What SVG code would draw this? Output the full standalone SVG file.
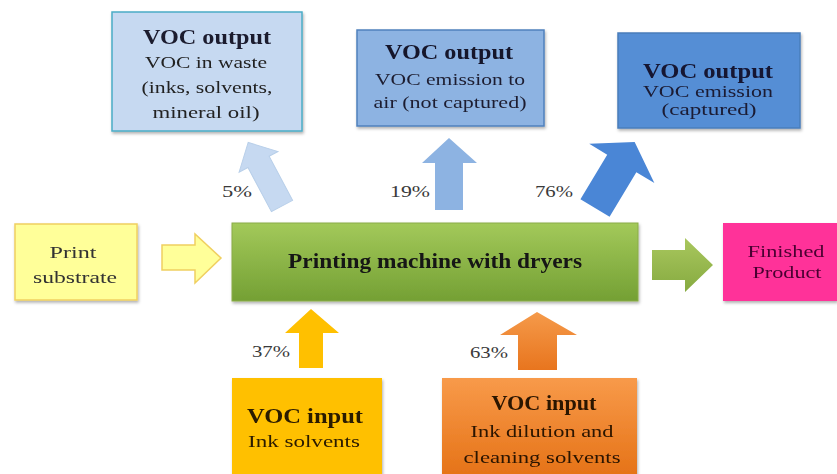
<svg xmlns="http://www.w3.org/2000/svg" width="837" height="474" viewBox="0 0 837 474">
<style>
text{font-family:"Liberation Serif","Times New Roman",serif;text-anchor:middle}
.t{font-size:22px;font-weight:bold}
.s{font-size:17px}
.p{font-size:16px;fill:#3a3a3a}
.box{filter:url(#sh)}
</style>
<defs>
<filter id="sh" x="-10%" y="-10%" width="125%" height="130%">
<feDropShadow dx="1" dy="2" stdDeviation="1.5" flood-color="#000" flood-opacity="0.3"/>
</filter>
<linearGradient id="gg" x1="0" y1="0" x2="0" y2="1">
<stop offset="0" stop-color="#a3c95a"/><stop offset="1" stop-color="#74a034"/>
</linearGradient>
<linearGradient id="og" x1="0" y1="0" x2="0" y2="1">
<stop offset="0" stop-color="#f89a4a"/><stop offset="1" stop-color="#e57216"/>
</linearGradient>
<linearGradient id="oa" x1="0" y1="0" x2="0" y2="1">
<stop offset="0" stop-color="#f59a4a"/><stop offset="1" stop-color="#e8751e"/>
</linearGradient>
<linearGradient id="ga" x1="0" y1="0" x2="0" y2="1">
<stop offset="0" stop-color="#a9c75e"/><stop offset="1" stop-color="#86aa40"/>
</linearGradient>
</defs>

<g id="out-waste" class="box">
<rect x="112" y="12" width="190" height="119" fill="#c6d9f1" stroke="#4bacc6" stroke-width="1.5"/>
<text x="207" y="44" class="t" fill="#1a1a2e" textLength="128" lengthAdjust="spacingAndGlyphs">VOC output</text>
<text x="206" y="68" class="s" fill="#222" textLength="122" lengthAdjust="spacingAndGlyphs">VOC  in waste</text>
<text x="207" y="93" class="s" fill="#222" textLength="131" lengthAdjust="spacingAndGlyphs">(inks, solvents,</text>
<text x="206" y="118" class="s" fill="#222" textLength="107" lengthAdjust="spacingAndGlyphs">mineral  oil)</text>
</g>

<g id="out-air" class="box">
<rect x="357" y="30" width="187" height="96" fill="#8db3e2" stroke="#4f81bd" stroke-width="1.5"/>
<text x="449" y="59" class="t" fill="#14142a" textLength="128" lengthAdjust="spacingAndGlyphs">VOC output</text>
<text x="450" y="85" class="s" fill="#1e1e30" textLength="150" lengthAdjust="spacingAndGlyphs">VOC  emission to</text>
<text x="450" y="108" class="s" fill="#1e1e30" textLength="153" lengthAdjust="spacingAndGlyphs">air (not captured)</text>
</g>

<g id="out-captured" class="box">
<rect x="618" y="33" width="182" height="95" fill="#558ed5" stroke="#4a7ebb" stroke-width="1.5"/>
<text x="708" y="78" class="t" fill="#141430" textLength="130" lengthAdjust="spacingAndGlyphs">VOC output</text>
<text x="708" y="97" class="s" fill="#1a1a33" textLength="130" lengthAdjust="spacingAndGlyphs">VOC  emission</text>
<text x="709" y="115" class="s" fill="#1a1a33" textLength="95" lengthAdjust="spacingAndGlyphs">(captured)</text>
</g>

<g id="substrate" class="box">
<rect x="15" y="224" width="122" height="76" fill="#ffff99" stroke="#f0d060" stroke-width="1.5"/>
<text x="73" y="258" class="s" fill="#333" textLength="47" lengthAdjust="spacingAndGlyphs">Print</text>
<text x="75" y="283" class="s" fill="#333" textLength="84" lengthAdjust="spacingAndGlyphs">substrate</text>
</g>

<g id="machine" class="box">
<rect x="232" y="223" width="406" height="78" fill="url(#gg)" stroke="#8aac48" stroke-width="1"/>
<text x="435" y="268" font-size="21" font-weight="bold" fill="#141414" textLength="294" lengthAdjust="spacingAndGlyphs">Printing machine with dryers</text>
</g>

<g id="product" class="box">
<rect x="723" y="223" width="114" height="78" fill="#ff3399"/>
<text x="786" y="257" class="s" fill="#4a0030" textLength="77" lengthAdjust="spacingAndGlyphs">Finished</text>
<text x="787" y="278" class="s" fill="#4a0030" textLength="69" lengthAdjust="spacingAndGlyphs">Product</text>
</g>

<g id="in-ink" class="box">
<rect x="232" y="378" width="150" height="100" fill="#ffc000"/>
<text x="305" y="423" class="t" fill="#2b1a00" textLength="116" lengthAdjust="spacingAndGlyphs">VOC input</text>
<text x="304" y="447" class="s" fill="#2b1a00" textLength="112" lengthAdjust="spacingAndGlyphs">Ink solvents</text>
</g>

<g id="in-dilution" class="box">
<rect x="442" y="378" width="195" height="100" fill="url(#og)"/>
<text x="544" y="410" class="t" fill="#2b1400" textLength="105" lengthAdjust="spacingAndGlyphs">VOC input</text>
<text x="542" y="437" class="s" fill="#2b1400" textLength="143" lengthAdjust="spacingAndGlyphs">Ink dilution and</text>
<text x="542" y="463" class="s" fill="#2b1400" textLength="157" lengthAdjust="spacingAndGlyphs">cleaning solvents</text>
</g>

<g id="connectors">
<polygon points="-12,0 -12,-50 -22,-50 0,-72 22,-50 12,-50 12,0" fill="#c6d9f1" stroke="#b8cfe9" stroke-width="1" transform="translate(282,206) rotate(-28)"/>
<polygon points="435,210 435,163 422,163 449,138 477,163 463,163 463,210" fill="#8db3e2"/>
<polygon points="-17,0 -17,-52 -38,-52 0,-77 38,-52 17,-52 17,0" fill="#4a86d6" transform="translate(595,208) rotate(31)"/>
<polygon points="162,245 195,245 195,234 221,258 195,283 195,270 162,270" fill="#ffff99" stroke="#f0d060" stroke-width="1.5"/>
<polygon points="652,250 685,250 685,238 713,265 685,292 685,280 652,280" fill="url(#ga)"/>
<polygon points="299,368 299,333 285,333 311,309 339,333 323,333 323,368" fill="#ffc000"/>
<polygon points="518,370 518,335 500,335 537,312 577,335 557,335 557,370" fill="url(#oa)"/>
<text x="237" y="197" class="p" textLength="30" lengthAdjust="spacingAndGlyphs">5%</text>
<text x="410" y="197" class="p" textLength="40" lengthAdjust="spacingAndGlyphs">19%</text>
<text x="554" y="197" class="p" textLength="38" lengthAdjust="spacingAndGlyphs">76%</text>
<text x="271" y="357" class="p" textLength="38" lengthAdjust="spacingAndGlyphs">37%</text>
<text x="489" y="358" class="p" textLength="38" lengthAdjust="spacingAndGlyphs">63%</text>
</g>
</svg>
